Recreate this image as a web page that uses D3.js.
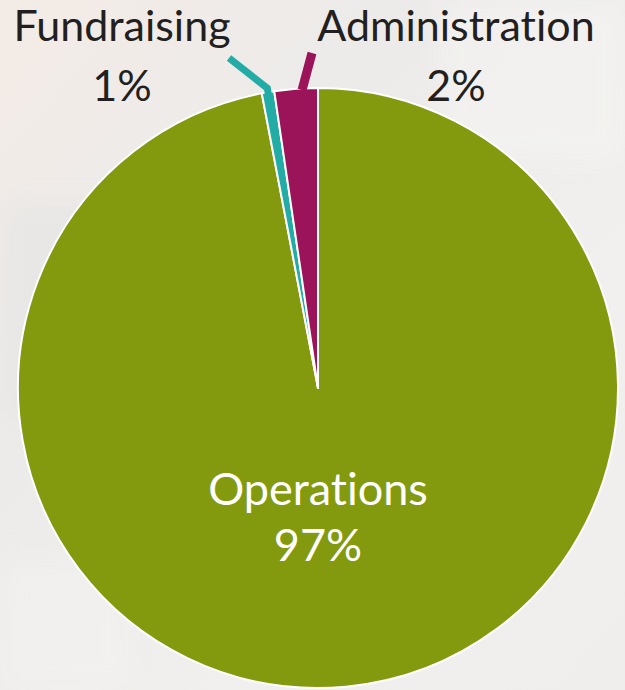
<!DOCTYPE html>
<html>
<head>
<meta charset="utf-8">
<script src="https://cdn.jsdelivr.net/npm/d3@7"></script>
<style>
  html, body { margin: 0; padding: 0; background: #eeedeb; }
  svg { display: block; }
  .label { font-family: Lato, "Open Sans", sans-serif; font-size: 43px; fill: #231f20;
           font-variant-ligatures: none; font-feature-settings: "liga" 0; }
  .inner { fill: #ffffff; font-size: 45px; }
</style>
</head>
<body>
<svg id="chart"></svg>
<script>
// data
var categories = ["Operations", "Fundraising", "Administration"];
var shares = [97.0, 0.67, 2.33];
var percentLabels = ["97%", "1%", "2%"];
var colors = ["#849a0e", "#23aca6", "#9b1459"];

var width = 625, height = 690;
var center = [318, 388];
var radius = 300;

var svg = d3.select("#chart")
    .attr("width", width)
    .attr("height", height);

// faded backdrop
var defs = svg.append("defs");
var bg = defs.append("linearGradient").attr("id", "bg")
    .attr("x1", 0).attr("y1", 0).attr("x2", 1).attr("y2", 1);
bg.append("stop").attr("offset", "0%").attr("stop-color", "#f4ebe6");
bg.append("stop").attr("offset", "35%").attr("stop-color", "#ecebea");
bg.append("stop").attr("offset", "70%").attr("stop-color", "#f1f0ee");
bg.append("stop").attr("offset", "100%").attr("stop-color", "#efeeec");
defs.append("filter").attr("id", "blur")
    .append("feGaussianBlur").attr("stdDeviation", 12);

svg.append("rect").attr("width", width).attr("height", height).attr("fill", "url(#bg)");
var haze = svg.append("g").attr("filter", "url(#blur)").attr("opacity", 0.5);
haze.append("rect").attr("x", 0).attr("y", 200).attr("width", 140).attr("height", 220).attr("fill", "#e3e4e4");
haze.append("rect").attr("x", 440).attr("y", 0).attr("width", 185).attr("height", 160).attr("fill", "#f6f5f3");
haze.append("rect").attr("x", 0).attr("y", 560).attr("width", 130).attr("height", 130).attr("fill", "#f5f3f1");

var pie = d3.pie().sort(null).value(function (d) { return d; });
var arcs = pie(shares);
var arc = d3.arc().innerRadius(0).outerRadius(radius);

var g = svg.append("g").attr("transform", "translate(" + center + ")");

g.selectAll("path.slice")
    .data(arcs)
    .enter()
    .append("path")
    .attr("class", "slice")
    .attr("d", arc)
    .attr("fill", function (d, i) { return colors[i]; })
    .attr("stroke", "#ffffff")
    .attr("stroke-width", 2)
    .attr("stroke-linejoin", "round");

function pointAt(angle, r) {
    return [r * Math.sin(angle), -r * Math.cos(angle)];
}

// leader lines for the thin slices (label end given relative to centre)
var fund = arcs[1], admin = arcs[2];
var fundMid = (fund.startAngle + fund.endAngle) / 2;
var adminMid = (admin.startAngle + admin.endAngle) / 2;

g.append("path")
    .attr("d", d3.line()([[-89, -330], pointAt(fundMid, radius + 4), pointAt(fundMid, radius - 22)]))
    .attr("fill", "none")
    .attr("stroke", colors[1])
    .attr("stroke-width", 7)
    .attr("stroke-linejoin", "miter");

g.append("path")
    .attr("d", d3.line()([[-6, -335], [pointAt(adminMid, radius)[0] + 6, -radius + 2]]))
    .attr("fill", "none")
    .attr("stroke", colors[2])
    .attr("stroke-width", 9);

// outside labels
var outside = [
    { i: 1, x: 122 },
    { i: 2, x: 456 }
];
outside.forEach(function (o) {
    svg.append("text").attr("class", "label")
        .attr("x", o.x).attr("y", 41).attr("text-anchor", "middle")
        .text(categories[o.i]);
    svg.append("text").attr("class", "label")
        .attr("x", o.x).attr("y", 101).attr("text-anchor", "middle")
        .text(percentLabels[o.i]);
});

// inside label
svg.append("text").attr("class", "label inner")
    .attr("x", center[0]).attr("y", 505).attr("text-anchor", "middle")
    .text(categories[0]);
svg.append("text").attr("class", "label inner")
    .attr("x", center[0]).attr("y", 561).attr("text-anchor", "middle")
    .text(percentLabels[0]);
</script>
</body>
</html>
